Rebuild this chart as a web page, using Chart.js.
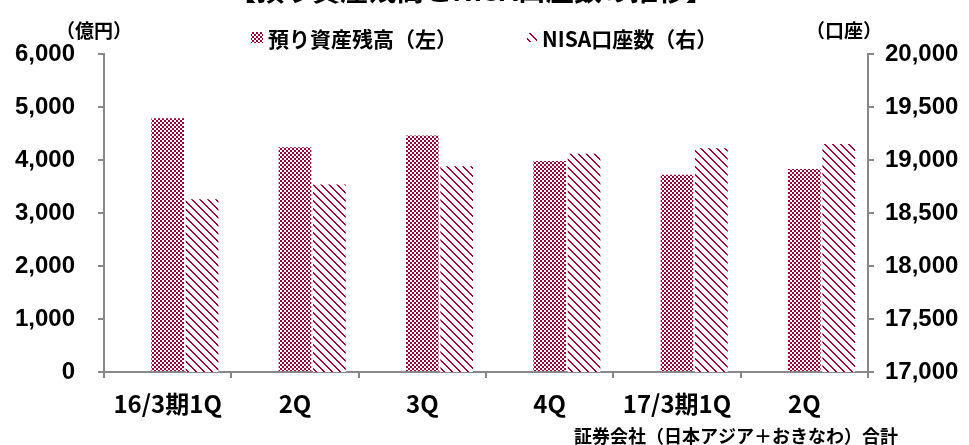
<!DOCTYPE html>
<html>
<head>
<meta charset="utf-8">
<script src="https://cdn.jsdelivr.net/npm/chart.js@4.4.1/dist/chart.umd.min.js"></script>
<style>
    html, body { margin: 0; padding: 0; background: #fff; }
    #wrap { width: 969px; height: 445px; position: relative; }
</style>
</head>
<body>
<div id="wrap"><canvas id="barChart"></canvas></div>
<script>
/* =======================================================
   DATA
   ======================================================= */
const chartTitle = "【預り資産残高とNISA口座数の推移】";
const categories = ["16/3期1Q", "2Q", "3Q", "4Q", "17/3期1Q", "2Q"];
const assetLabel = "預り資産残高（左）";
const assetValues = [4790, 4240, 4460, 3980, 3720, 3830];     // 億円
const nisaLabel = "NISA口座数（右）";
const nisaValues = [18630, 18770, 18940, 19060, 19110, 19150]; // 口座
const spacerValues = [null, null, null, null, null, null];     // empty slot, keeps bars right of center
const leftUnit = "（億円）";
const rightUnit = "（口座）";
const leftRange = { min: 0, max: 6000, step: 1000 };
const rightRange = { min: 17000, max: 20000, step: 500 };
const sourceNote = "証券会社（日本アジア＋おきなわ）合計";

/* =======================================================
   PATTERNS
   ======================================================= */
const RED = "#990033";
const AXIS = "#888888";
const canvas = document.getElementById("barChart");
const ctx = canvas.getContext("2d");

function makePattern(kind) {
    const tile = document.createElement("canvas");
    tile.width = 8;
    tile.height = 8;
    const g = tile.getContext("2d");
    g.fillStyle = "#fff";
    g.fillRect(0, 0, 8, 8);
    g.fillStyle = RED;
    for (let y = 0; y < 8; y++) {
        for (let x = 0; x < 8; x++) {
            let on;
            if (kind === "check") on = ((x >> 1) + (y >> 1)) % 2 === 0;
            else on = ((x - y + 8) % 8) < 2;
            if (on) g.fillRect(x, y, 1, 1);
        }
    }
    return ctx.createPattern(tile, "repeat");
}

const checkFill = makePattern("check");
const diagFill = makePattern("diag");

/* =======================================================
   TEXT AROUND THE PLOT
   ======================================================= */
const cjk = "'Noto Sans CJK JP', sans-serif";

const decorPlugin = {
    id: "decor",
    afterDraw(chart) {
        const c = chart.ctx;
        c.save();
        c.fillStyle = "#000";

        // title, clipped at the top edge like the original
        c.font = "bold 28px " + cjk;
        c.textAlign = "center";
        c.textBaseline = "alphabetic";
        c.fillText(chartTitle, 471, 1);

        // unit labels
        c.font = "bold 19px " + cjk;
        c.textBaseline = "middle";
        c.fillText(leftUnit, 94, 31);
        c.fillText(rightUnit, 844, 31);

        // legend
        c.font = "bold 21px " + cjk;
        c.textAlign = "left";
        c.fillStyle = checkFill;
        c.fillRect(251, 32, 12, 11);
        c.fillStyle = "#000";
        c.fillText(assetLabel, 268, 39);
        c.fillStyle = diagFill;
        c.fillRect(527, 33, 10, 9);
        c.fillStyle = "#000";
        c.fillText(nisaLabel, 542, 39);

        // source note
        c.font = "bold 18px " + cjk;
        c.textAlign = "right";
        c.fillText(sourceNote, 898, 436);
        c.restore();
    }
};

/* =======================================================
   CHART.JS
   ======================================================= */
const fmt = v => Number(v).toLocaleString("en-US");

new Chart(canvas, {
    type: "bar",
    data: {
        labels: categories,
        datasets: [
            {
                label: "",
                data: spacerValues,
                yAxisID: "yL",
                backgroundColor: "rgba(0,0,0,0)"
            },
            {
                label: assetLabel,
                data: assetValues,
                yAxisID: "yL",
                backgroundColor: checkFill,
                borderWidth: 0
            },
            {
                label: nisaLabel,
                data: nisaValues,
                yAxisID: "yR",
                backgroundColor: diagFill,
                borderWidth: 0
            }
        ]
    },
    options: {
        responsive: true,
        maintainAspectRatio: false,
        devicePixelRatio: 1,
        animation: false,
        categoryPercentage: 0.81,
        barPercentage: 0.95,
        layout: { padding: { top: 54, left: 0, right: 0, bottom: 0 } },
        plugins: {
            legend: { display: false },
            title: { display: false },
            tooltip: { enabled: false }
        },
        scales: {
            x: {
                afterFit: s => { s.height = 73; },
                grid: { offset: true, drawOnChartArea: false, tickLength: 6, color: AXIS, lineWidth: 2 },
                border: { display: true, color: AXIS, width: 2 },
                ticks: { color: "#000", font: { family: cjk, size: 24, weight: "bold" }, padding: 11, maxRotation: 0 }
            },
            yL: {
                position: "left",
                min: leftRange.min,
                max: leftRange.max,
                afterFit: s => { s.width = 104; },
                grid: { drawOnChartArea: false, tickLength: 6, color: AXIS, lineWidth: 2 },
                border: { display: true, color: AXIS, width: 2 },
                ticks: {
                    stepSize: leftRange.step,
                    color: "#000",
                    padding: 23,
                    font: { family: "'Liberation Sans', Arial, sans-serif", size: 24, weight: "bold" },
                    callback: fmt
                }
            },
            yR: {
                position: "right",
                min: rightRange.min,
                max: rightRange.max,
                afterFit: s => { s.width = 101; },
                grid: { drawOnChartArea: false, tickLength: 6, color: AXIS, lineWidth: 2 },
                border: { display: true, color: AXIS, width: 2 },
                ticks: {
                    stepSize: rightRange.step,
                    color: "#000",
                    padding: 11,
                    font: { family: "'Liberation Sans', Arial, sans-serif", size: 24, weight: "bold" },
                    callback: fmt
                }
            }
        }
    },
    plugins: [decorPlugin]
});
</script>
</body>
</html>
